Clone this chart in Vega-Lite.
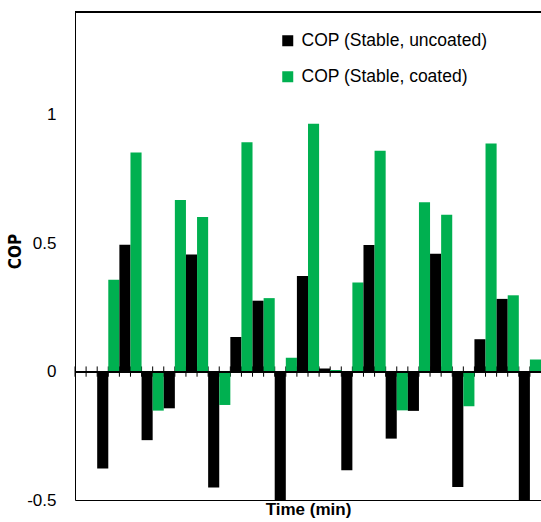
{
  "$schema": "https://vega.github.io/schema/vega-lite/v6.json",
  "width": 466,
  "height": 488,
  "autosize": {"type": "none"},
  "padding": {"left": 75, "top": 12, "right": 0, "bottom": 22},
  "background": "white",
  "config": {
    "view": {"stroke": null},
    "font": "Liberation Sans",
    "axis": {"grid": false}
  },
  "data": {
    "values": [
      {"time": 0, "series": "COP (Stable, uncoated)", "cop": 0},
      {"time": 0, "series": "COP (Stable, coated)", "cop": 0},
      {"time": 1, "series": "COP (Stable, uncoated)", "cop": -0.377},
      {"time": 1, "series": "COP (Stable, coated)", "cop": 0.358},
      {"time": 2, "series": "COP (Stable, uncoated)", "cop": 0.494},
      {"time": 2, "series": "COP (Stable, coated)", "cop": 0.853},
      {"time": 3, "series": "COP (Stable, uncoated)", "cop": -0.267},
      {"time": 3, "series": "COP (Stable, coated)", "cop": -0.152},
      {"time": 4, "series": "COP (Stable, uncoated)", "cop": -0.143},
      {"time": 4, "series": "COP (Stable, coated)", "cop": 0.668},
      {"time": 5, "series": "COP (Stable, uncoated)", "cop": 0.456},
      {"time": 5, "series": "COP (Stable, coated)", "cop": 0.602},
      {"time": 6, "series": "COP (Stable, uncoated)", "cop": -0.451},
      {"time": 6, "series": "COP (Stable, coated)", "cop": -0.13},
      {"time": 7, "series": "COP (Stable, uncoated)", "cop": 0.135},
      {"time": 7, "series": "COP (Stable, coated)", "cop": 0.893},
      {"time": 8, "series": "COP (Stable, uncoated)", "cop": 0.276},
      {"time": 8, "series": "COP (Stable, coated)", "cop": 0.286},
      {"time": 9, "series": "COP (Stable, uncoated)", "cop": -0.5},
      {"time": 9, "series": "COP (Stable, coated)", "cop": 0.054},
      {"time": 10, "series": "COP (Stable, uncoated)", "cop": 0.372},
      {"time": 10, "series": "COP (Stable, coated)", "cop": 0.965},
      {"time": 11, "series": "COP (Stable, uncoated)", "cop": 0.012},
      {"time": 11, "series": "COP (Stable, coated)", "cop": 0.006},
      {"time": 12, "series": "COP (Stable, uncoated)", "cop": -0.384},
      {"time": 12, "series": "COP (Stable, coated)", "cop": 0.347},
      {"time": 13, "series": "COP (Stable, uncoated)", "cop": 0.493},
      {"time": 13, "series": "COP (Stable, coated)", "cop": 0.86},
      {"time": 14, "series": "COP (Stable, uncoated)", "cop": -0.261},
      {"time": 14, "series": "COP (Stable, coated)", "cop": -0.151},
      {"time": 15, "series": "COP (Stable, uncoated)", "cop": -0.153},
      {"time": 15, "series": "COP (Stable, coated)", "cop": 0.659},
      {"time": 16, "series": "COP (Stable, uncoated)", "cop": 0.459},
      {"time": 16, "series": "COP (Stable, coated)", "cop": 0.611},
      {"time": 17, "series": "COP (Stable, uncoated)", "cop": -0.449},
      {"time": 17, "series": "COP (Stable, coated)", "cop": -0.135},
      {"time": 18, "series": "COP (Stable, uncoated)", "cop": 0.126},
      {"time": 18, "series": "COP (Stable, coated)", "cop": 0.888},
      {"time": 19, "series": "COP (Stable, uncoated)", "cop": 0.283},
      {"time": 19, "series": "COP (Stable, coated)", "cop": 0.297},
      {"time": 20, "series": "COP (Stable, uncoated)", "cop": -0.5},
      {"time": 20, "series": "COP (Stable, coated)", "cop": 0.047}
    ]
  },
  "layer": [
    {
      "transform": [{"filter": "datum.series == 'COP (Stable, uncoated)'"}],
      "mark": {"type": "rule", "color": "black", "strokeWidth": 1},
      "encoding": {
        "x": {"field": "time", "type": "ordinal", "bandPosition": 0, "scale": {"paddingInner": 0, "paddingOuter": 0}, "title": "Time (min)"},
        "y": {"datum": 0.02, "type": "quantitative"},
        "y2": {"datum": -0.02}
      }
    },
    {
      "transform": [{"filter": "datum.series == 'COP (Stable, uncoated)'"}],
      "mark": {"type": "rule", "color": "black", "strokeWidth": 1},
      "encoding": {
        "x": {"field": "time", "type": "ordinal", "bandPosition": 0.5, "scale": {"paddingInner": 0, "paddingOuter": 0}, "title": "Time (min)"},
        "y": {"datum": 0.02, "type": "quantitative"},
        "y2": {"datum": -0.02}
      }
    },
    {
      "mark": {"type": "bar", "strokeWidth": 0},
      "encoding": {
        "x": {
          "field": "time", "type": "ordinal",
          "scale": {"paddingInner": 0, "paddingOuter": 0},
          "title": "Time (min)",
          "axis": {
            "labels": false, "ticks": false, "domain": true, "domainColor": "black", "domainWidth": 1,
            "titleFont": "Liberation Sans", "titleFontSize": 17, "titleFontWeight": "bold", "titleColor": "black", "titlePadding": 1
          }
        },
        "xOffset": {"field": "series", "type": "nominal", "scale": {"domain": ["COP (Stable, uncoated)", "COP (Stable, coated)"], "paddingInner": 0, "paddingOuter": 0}},
        "y": {
          "field": "cop", "type": "quantitative",
          "scale": {"domain": [-0.5, 1.4], "nice": false, "zero": false},
          "title": "COP",
          "axis": {
            "values": [-0.5, 0, 0.5, 1],
            "labelExpr": "'' + datum.value",
            "ticks": false, "tickSize": 0, "labelPadding": 19,
            "labelFontSize": 17, "labelColor": "black", "labelFont": "Liberation Sans",
            "domainColor": "black", "domainWidth": 1,
            "titleFont": "Liberation Sans Narrow, DejaVu Sans Condensed, Liberation Sans", "titleFontSize": 17, "titleFontWeight": "bold", "titleColor": "black", "titlePadding": 2, "titleY": 239
          }
        },
        "color": {
          "field": "series", "type": "nominal",
          "scale": {"domain": ["COP (Stable, uncoated)", "COP (Stable, coated)"], "range": ["#000000", "#00B050"]},
          "legend": {
            "title": null, "orient": "none", "legendX": 204, "legendY": 20, "padding": 0,
            "rowPadding": 17, "labelFontSize": 17.5, "labelColor": "black", "labelFont": "Liberation Sans",
            "symbolType": "square", "symbolSize": 121, "symbolStrokeWidth": 0, "labelOffset": 5, "labelLimit": 400
          }
        }
      }
    },
    {
      "mark": {"type": "rule", "color": "black", "strokeWidth": 1},
      "encoding": {"y": {"datum": 0, "type": "quantitative"}}
    },
    {
      "mark": {"type": "rule", "color": "black", "strokeWidth": 1},
      "encoding": {"y": {"datum": 1.4, "type": "quantitative"}}
    }
  ]
}
